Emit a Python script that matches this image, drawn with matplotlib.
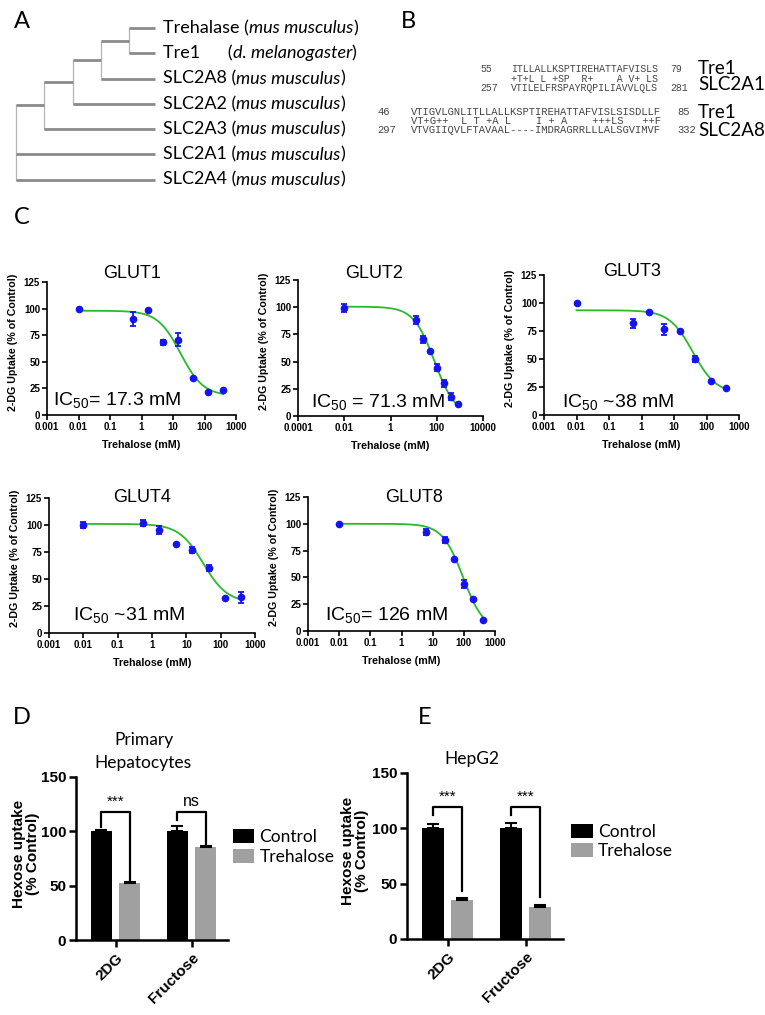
import matplotlib.pyplot as plt
import numpy as np

plt.rcParams['font.family'] = ['Liberation Sans', 'DejaVu Sans']
plt.rcParams['mathtext.fontset'] = 'custom'
plt.rcParams['mathtext.rm'] = 'Liberation Sans'
plt.rcParams['mathtext.default'] = 'regular'

# ---- data ----
# A: tree
tree = ((((("Trehalase", "Tre1"), "SLC2A8"), "SLC2A2"), "SLC2A3"), "SLC2A1", "SLC2A4")
species = {"Trehalase": "mus musculus", "Tre1": "d. melanogaster", "SLC2A8": "mus musculus",
           "SLC2A2": "mus musculus", "SLC2A3": "mus musculus", "SLC2A1": "mus musculus",
           "SLC2A4": "mus musculus"}

# B: alignments
aln1 = [("55", "ITLLALLKSPTIREHATTAFVISLS", "79"),
        ("", "+T+L L +SP  R+    A V+ LS", ""),
        ("257", "VTILELFRSPAYRQPILIAVVLQLS", "281")]
aln1_names = ["Tre1", "SLC2A1"]
aln2 = [("46", "VTIGVLGNLITLLALLKSPTIREHATTAFVISLSISDLLF", "85"),
        ("", "VT+G++  L T +A L    I + A    +++LS   ++F", ""),
        ("297", "VTVGIIQVLFTAVAAL----IMDRAGRRLLLALSGVIMVF", "332")]
aln2_names = ["Tre1", "SLC2A8"]

# C: dose response (conc mM, % of control, error, fit top/bottom/ic50/hill)
conc_a = [0.01, 0.55, 1.65, 4.9, 14.8, 44.4, 133, 400]
glut1_mean = [100, 90.4, 98.5, 68.2, 70.7, 35.2, 21.4, 23.6]
glut1_err = [0, 6.5, 0, 2.5, 6, 0, 0, 0]
glut1_fit = (98, 18, 17.3, 1.2)

conc_b = [0.01, 12.5, 25, 50, 100, 200, 400, 800]
glut2_mean = [99.3, 88.2, 70.5, 59.7, 44.4, 30, 17.8, 10.7]
glut2_err = [4, 4, 3, 0, 3, 3, 3, 0]
glut2_fit = (100.5, 0, 80, 0.96)

glut3_mean = [99.7, 81.8, 92.3, 76.5, 75.3, 50, 30.4, 24.1]
glut3_err = [0, 4, 0, 5, 0, 3, 0, 0]
glut3_fit = (93.5, 19, 38, 1.2)

glut4_mean = [100.2, 101.7, 95.5, 82.2, 76.9, 60.2, 32.3, 32.9]
glut4_err = [3, 3, 4, 0, 3, 3, 0, 5]
glut4_fit = (101, 28, 31, 1.23)

conc_c = [0.01, 6.25, 25, 50, 100, 200, 400]
glut8_mean = [99.9, 92.4, 84.7, 66.7, 43.7, 30.1, 10.2]
glut8_err = [0, 3, 3, 0, 4, 0, 0]
glut8_fit = (100, 0, 95, 1.3)

# D / E: hexose uptake
groups = ["2DG", "Fructose"]
hep_ctrl = [100, 100]
hep_ctrl_err = [1.5, 5]
hep_treh = [52, 85.5]
hep_treh_err = [1.5, 1]
hep_sig = ["***", "ns"]
hepg2_ctrl = [100.5, 100.5]
hepg2_ctrl_err = [3, 4]
hepg2_treh = [35.5, 29.3]
hepg2_treh_err = [1.2, 1]
hepg2_sig = ["***", "***"]

W, H = 765, 1015
fig = plt.figure(figsize=(W / 100, H / 100), dpi=100)
CAL = 'Lato'


def rect(l, t, r, b):
    return [l / W, 1 - b / H, (r - l) / W, (b - t) / H]


def ftext(x, y, s, **kw):
    return fig.text(x / W, 1 - y / H, s, **kw)


# panel letters
for letter, (x, y) in zip("ABCDE", [(22, 21), (408, 21), (22, 218), (22, 718), (425, 718)]):
    ftext(x, y, letter, family=CAL, fontsize=17, ha='center', va='center')

# ---- A: tree ----
axA = fig.add_axes(rect(0, 0, 380, 240))
axA.set_xlim(-16 / 28.25, 364 / 28.25)
axA.set_ylim((240 - 28) / 25.3, -28 / 25.3)
axA.axis('off')
tip = 4.92
leaf_counter = [0]


def draw_clade(node, depth):
    if isinstance(node, str):
        y = leaf_counter[0]
        leaf_counter[0] += 1
        t = axA.text(tip + 0.28, y, node + ("      (" if node == "Tre1" else " ("),
                     family=CAL, fontsize=13, va='center')
        t2 = axA.annotate(species[node], xy=(1, 0), xycoords=t, va='bottom',
                          family=CAL, fontsize=13, style='italic')
        axA.annotate(")", xy=(1, 0), xycoords=t2, va='bottom', family=CAL, fontsize=13)
        return y, True
    ys = []
    for child in node:
        yc, is_leaf = draw_clade(child, depth + 1)
        end = tip if is_leaf else depth + 1
        axA.plot([depth, end], [yc, yc], color='#8a8a8a', lw=2.0, solid_capstyle='butt', zorder=2)
        ys.append(yc)
    axA.plot([depth, depth], [min(ys), max(ys)], color='#b5b5b5', lw=0.9, zorder=1)
    return (min(ys) + max(ys)) / 2, False


draw_clade(tree, 0)

# ---- B: alignments ----
def draw_alignment(rows, names, xs, ys, name_ys, size):
    for (a, seq, b), y in zip(rows, ys):
        ftext(xs[0], y, a, family='Liberation Mono', fontsize=size, color='#444444', va='center')
        ftext(xs[1], y, seq, family='Liberation Mono', fontsize=size, color='#444444', va='center')
        ftext(xs[2], y, b, family='Liberation Mono', fontsize=size, color='#444444', va='center')
    for n, y in zip(names, name_ys):
        ftext(698, y, n, family=CAL, fontsize=13.5, va='center')


draw_alignment(aln1, aln1_names, (480, 511, 670), (69, 78.5, 88), (68, 85), 7.1)
draw_alignment(aln2, aln2_names, (377, 411, 677), (112, 121, 130), (113, 130), 7.6)

# ---- C: dose response ----
BLUE = '#1414f0'
GREEN = '#2cb82c'


def dose_panel(box, conc, mean, err, fit, xlim, xticks, xlabels, title, title_xy, ic, ic_pos):
    l, t, r, b = box
    ax = fig.add_axes(rect(l, t, r, b))
    ax.set_xscale('log')
    top, bot, ic50, hill = fit
    xs = np.logspace(np.log10(conc[0]), np.log10(conc[-1]), 300)
    ax.plot(xs, bot + (top - bot) / (1 + (xs / ic50) ** hill), color=GREEN, lw=1.3, zorder=2)
    ax.errorbar(conc, mean, yerr=err, fmt='o', color=BLUE, ms=4.5, elinewidth=1.3,
                capsize=2.5, capthick=1.3, zorder=3)
    ax.set_xlim(*xlim)
    ax.set_ylim(0, 125)
    ax.set_xticks(xticks)
    ax.set_xticklabels(xlabels)
    ax.minorticks_off()
    ax.set_yticks([0, 25, 50, 75, 100, 125])
    for s in ['top', 'right']:
        ax.spines[s].set_visible(False)
    for s in ['left', 'bottom']:
        ax.spines[s].set_linewidth(1.2)
    ax.tick_params(length=3.5, width=1.2, labelsize=7, pad=1.5)
    for lab in ax.get_xticklabels() + ax.get_yticklabels():
        lab.set_fontweight('bold')
    ax.set_ylabel('2-DG Uptake (% of Control)', fontsize=7.7, fontweight='bold')
    ax.set_xlabel('Trehalose (mM)', fontsize=7.7, fontweight='bold')
    ax.yaxis.set_label_coords(-29 / (r - l), 0.55)
    ax.xaxis.set_label_coords(0.5, -25 / (b - t))
    ftext(title_xy[0], title_xy[1], title, fontsize=13, ha='center', va='center')
    ax.text(ic_pos[0], ic_pos[1], ic, transform=ax.transAxes, fontsize=14, va='baseline')
    return ax


dec = ['0.001', '0.01', '0.1', '1', '10', '100', '1000']
dec_ticks = [0.001, 0.01, 0.1, 1, 10, 100, 1000]
dose_panel((47, 282, 236, 415), conc_a, glut1_mean, glut1_err, glut1_fit, (0.001, 1000),
           dec_ticks, dec, 'GLUT1', (132, 273), r'IC$_{50}$= 17.3 mM', (0.03, 0.075))
dose_panel((298, 280, 483, 416), conc_b, glut2_mean, glut2_err, glut2_fit, (0.0001, 10000),
           [0.0001, 0.01, 1, 100, 10000], ['0.0001', '0.01', '1', '100', '10000'],
           'GLUT2', (374, 273), r'IC$_{50}$ = 71.3 mM', (0.07, 0.066))
dose_panel((544, 275, 739, 415), conc_a, glut3_mean, glut3_err, glut3_fit, (0.001, 1000),
           dec_ticks, dec, 'GLUT3', (632, 272), r'IC$_{50}$ ~38 mM', (0.092, 0.057))
dose_panel((49, 498, 255, 633), conc_a, glut4_mean, glut4_err, glut4_fit, (0.001, 1000),
           dec_ticks, dec, 'GLUT4', (142, 497), r'IC$_{50}$ ~31 mM', (0.117, 0.096))
dose_panel((308, 497, 495, 631), conc_c, glut8_mean, glut8_err, glut8_fit, (0.001, 1000),
           dec_ticks, dec, 'GLUT8', (414, 497), r'IC$_{50}$= 126 mM', (0.09, 0.082))

# ---- D / E: bars ----
def bar_panel(box, ctrl, ctrl_err, treh, treh_err, sig, legend_xy, ylab_x, brackets):
    l, t, r, b = box
    ax = fig.add_axes(rect(l, t, r, b))
    x = np.arange(len(groups))
    off, w = 0.185, 0.275
    ax.bar(x - off, ctrl, w, color='black', label='Control', zorder=2)
    ax.bar(x + off, treh, w, color='#a0a0a0', label='Trehalose', zorder=2)
    ax.errorbar(x - off, ctrl, yerr=[[0] * len(x), ctrl_err], fmt='none', ecolor='black',
                elinewidth=1.5, capsize=4, capthick=1.5, zorder=3)
    ax.errorbar(x + off, treh, yerr=[[0] * len(x), treh_err], fmt='none', ecolor='black',
                elinewidth=1.5, capsize=4, capthick=1.5, zorder=3)
    for i, (s, (yl, ytop, yr)) in enumerate(zip(sig, brackets)):
        ax.plot([i - off, i - off, i + off, i + off], [yl, ytop, ytop, yr], color='black', lw=1.6)
        ax.text(i, ytop + 3, s, ha='center', va='bottom', fontsize=11.5 if s == 'ns' else 11)
    ax.set_xlim(-0.52, 1.48)
    ax.set_ylim(0, 150)
    ax.set_yticks([0, 50, 100, 150])
    ax.set_xticks(x)
    ax.set_xticklabels(groups, rotation=45, ha='right', rotation_mode='anchor')
    for s in ['top', 'right']:
        ax.spines[s].set_visible(False)
    for s in ['left', 'bottom']:
        ax.spines[s].set_linewidth(1.8)
    ax.tick_params(length=5, width=1.8, pad=2)
    ax.tick_params(axis='y', labelsize=11)
    ax.tick_params(axis='x', labelsize=11, pad=3)
    for lab in ax.get_xticklabels() + ax.get_yticklabels():
        lab.set_fontweight('bold')
    ftext(ylab_x, (t + b) / 2 - 5, 'Hexose uptake\n(% Control)', rotation=90, ha='center',
          va='center', fontsize=11, fontweight='bold', linespacing=1.0)
    ax.legend(loc='center left', bbox_to_anchor=legend_xy, frameon=False, borderaxespad=0,
              borderpad=0, handlelength=1.25, handleheight=0.85, handletextpad=0.3,
              labelspacing=0.2, prop={'family': CAL, 'size': 12.5})
    return ax


bar_panel((76, 777, 228, 940), hep_ctrl, hep_ctrl_err, hep_treh, hep_treh_err, hep_sig,
          (1.03, 0.57), 26, [(104, 118, 55), (110, 118, 88)])
ftext(144, 740, 'Primary', family=CAL, fontsize=12.5, ha='center', va='center')
ftext(143, 763, 'Hepatocytes', family=CAL, fontsize=12.5, ha='center', va='center')
bar_panel((407, 773, 563, 939), hepg2_ctrl, hepg2_ctrl_err, hepg2_treh, hepg2_treh_err, hepg2_sig,
          (1.05, 0.587), 355, [(111.7, 119, 43.5), (111.7, 119, 38.3)])
ftext(472, 759, 'HepG2', family=CAL, fontsize=12.5, ha='center', va='center')

fig.savefig('out.png', dpi=100)
